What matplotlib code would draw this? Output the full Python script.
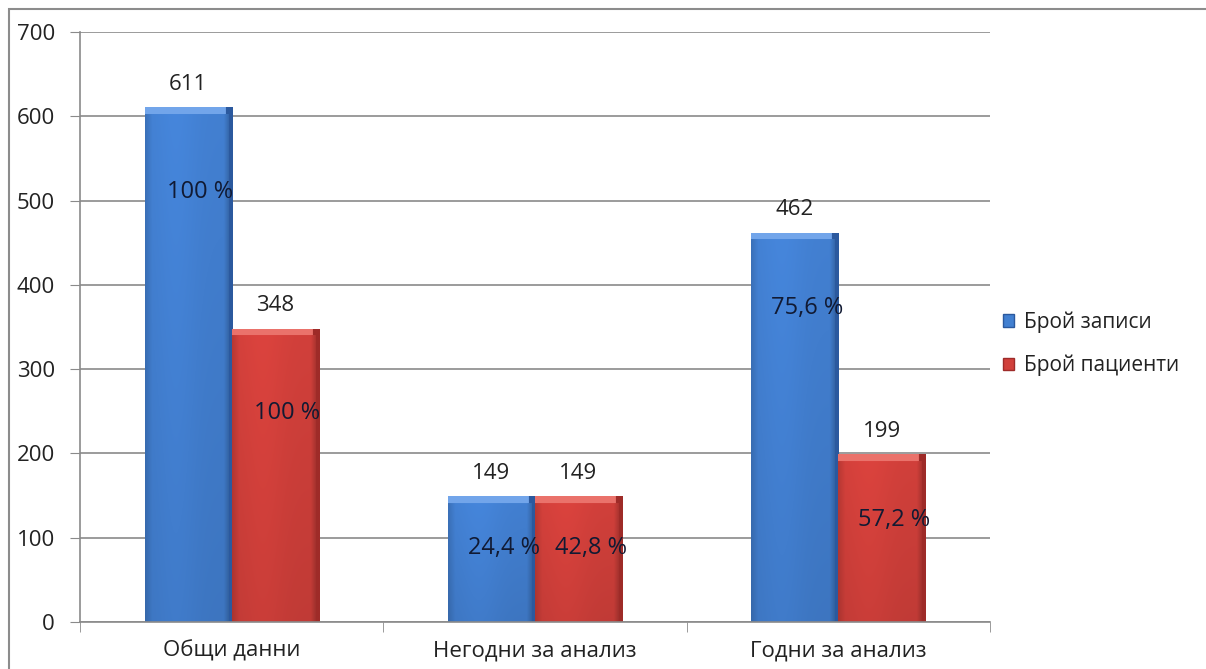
import matplotlib.pyplot as plt
import matplotlib.patches as mpatches
import numpy as np

categories = ['Общи данни', 'Негодни за анализ', 'Годни за анализ']
records = [611, 149, 462]
patients = [348, 149, 199]
records_pct = ['100 %', '24,4 %', '75,6 %']
patients_pct = ['100 %', '42,8 %', '57,2 %']
series_names = ['Брой записи', 'Брой пациенти']

# heights where the percent captions sit inside the bars
records_pct_y = [510, 88, 372]
patients_pct_y = [248, 88, 121]

plt.rcParams['font.family'] = ['Open Sans', 'DejaVu Sans']

fig = plt.figure(figsize=(12.06, 6.69), dpi=100)
ax = fig.add_axes([80 / 1206, 47 / 669, 910 / 1206, 590 / 669])

# outer frame around the whole chart
fig.patches.append(mpatches.Rectangle((9 / 1206, -0.05), 1.2, (669 - 9) / 669 + 0.05,
                                      transform=fig.transFigure, fill=False,
                                      edgecolor='#8c8c8c', linewidth=1.5))

x = np.arange(len(categories))
w = 0.287
px_per_unit = 590 / 700


def shaded_bar(xc, h, base, light, dark):
    rect = mpatches.Rectangle((xc - w / 2, 0), w, h, facecolor='none', edgecolor='none')
    ax.add_patch(rect)
    ncols = 87
    nrows = max(int(h * px_per_unit), 2)
    t = np.linspace(0, 1, ncols)
    prof = 1 - 0.3 * np.clip((t - 0.9) / 0.1, 0, 1) - 0.12 * np.clip((0.08 - t) / 0.08, 0, 1)
    prof = prof + 0.05 * np.exp(-((t - 0.35) / 0.25) ** 2)
    img = np.ones((nrows, ncols, 3)) * np.array(base)[None, None, :]
    # a little darker towards the bottom
    r = np.linspace(0, 1, nrows)
    img = img * prof[None, :, None] * (1 - 0.08 * r)[:, None, None]
    bev = min(7, nrows)
    img[:bev, :, :] = np.array(light)
    img[:bev, -7:, :] = np.array(dark)
    img[:, -4:, :] = np.array(dark)
    img = np.clip(img, 0, 1)
    im = ax.imshow(img, extent=(xc - w / 2, xc + w / 2, 0, h), aspect='auto',
                   interpolation='bilinear', zorder=2, origin='upper')
    im.set_clip_path(rect)


blue = (0.26, 0.50, 0.82)
blue_l = (0.45, 0.65, 0.92)
blue_d = (0.17, 0.35, 0.62)
red = (0.82, 0.25, 0.23)
red_l = (0.92, 0.45, 0.42)
red_d = (0.62, 0.17, 0.16)

for i in range(len(categories)):
    shaded_bar(x[i] - w / 2, records[i], blue, blue_l, blue_d)
    shaded_bar(x[i] + w / 2, patients[i], red, red_l, red_d)
    ax.annotate(str(records[i]), (x[i] - w / 2, records[i]), xytext=(0, 9),
                textcoords='offset points', ha='center', va='bottom', fontsize=16, color='#222222')
    ax.annotate(str(patients[i]), (x[i] + w / 2, patients[i]), xytext=(0, 9),
                textcoords='offset points', ha='center', va='bottom', fontsize=16, color='#222222')
    ax.text(x[i] - w / 2 + 0.04, records_pct_y[i], records_pct[i], ha='center', va='center',
            fontsize=17, color='#111a33', zorder=4)
    ax.text(x[i] + w / 2 + 0.04, patients_pct_y[i], patients_pct[i], ha='center', va='center',
            fontsize=17, color='#111a33', zorder=4)

ax.set_xlim(-0.5, 2.5)
ax.set_ylim(0, 700)
ax.set_yticks(range(0, 701, 100))
ax.set_xticks(x)
ax.set_xticklabels(categories)
ax.set_xticks([-0.5, 0.5, 1.5, 2.5], minor=True)
ax.yaxis.grid(True, color='#8a8a8a', linewidth=1.2)
ax.set_axisbelow(True)
for s in ['top', 'right']:
    ax.spines[s].set_visible(False)
for s in ['left', 'bottom']:
    ax.spines[s].set_color('#8a8a8a')
    ax.spines[s].set_linewidth(1.2)
ax.tick_params(axis='y', length=7, color='#8a8a8a', labelsize=16, labelcolor='#222222', pad=11)
ax.tick_params(axis='x', which='major', length=0, labelsize=16, labelcolor='#222222', pad=13)
ax.tick_params(axis='x', which='minor', length=7, color='#8a8a8a')

handles = [mpatches.Patch(facecolor=blue, edgecolor=blue_d),
           mpatches.Patch(facecolor=red, edgecolor=red_d)]
fig.legend(handles, series_names, loc='center left', bbox_to_anchor=(984 / 1206, 1 - 344 / 669),
           frameon=False, fontsize=15, handlelength=0.55, handleheight=0.55, handletextpad=0.45,
           labelspacing=1.05, labelcolor='#222222')

fig.savefig('out.png', dpi=100)
